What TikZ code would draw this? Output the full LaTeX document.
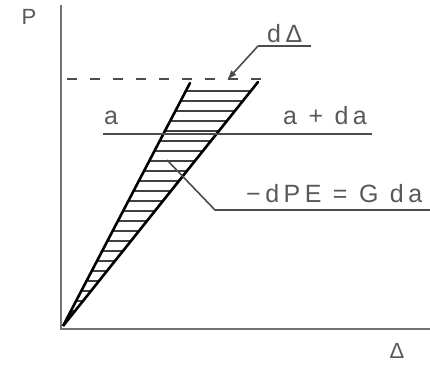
\documentclass[tikz,border=0pt]{standalone}
\usepackage{fontspec}
\setmainfont{Liberation Sans}
\newfontfamily\lblfont[LetterSpace=18]{Liberation Sans}
\usetikzlibrary{calc,arrows.meta}
\begin{document}
\begin{tikzpicture}[x=1pt,y=-1pt,
  axis/.style={draw=black!55,line width=2.6pt},
  edge/.style={draw=black,line width=2.6pt,line cap=round},
  hatch/.style={draw=black!75,line width=1.6pt},
  thin/.style={draw=black!70,line width=1.6pt},
  lbl/.style={font=\lblfont\fontsize{25}{26}\selectfont,text=black!65,inner sep=0pt,anchor=base west},
]
\useasboundingbox (0,0) rectangle (430,365);
% axes
\coordinate (O) at (61,329);
\coordinate (ytop) at (61,5);
\coordinate (xend) at (430,329);
\draw[axis] (ytop) -- (O) -- (xend);
\node[lbl,anchor=center,font=\lblfont\fontsize{22}{23}\selectfont] (P) at (29,17) {P};
\node[lbl,anchor=center,font=\lblfont\fontsize{22}{23}\selectfont] (D) at (397,351) {Δ};
% triangle
\coordinate (A) at (63,326);
\coordinate (L) at (190,83);
\coordinate (R) at (258,82);
\foreach \yy in {91,101,...,321}{
  \draw[hatch] ($(A)!{(326-\yy)/243}!(L)$) -- ($(A)!{(326-\yy)/244}!(R)$);
}
\draw[edge] (L) -- (A) -- (R);
% dashed line
\coordinate (dl) at (67,79);
\coordinate (dr) at (264,79);
\draw[draw=black!70,line width=1.6pt,dash pattern=on 10pt off 13pt] (dl) -- (dr);
% line a
\coordinate (al) at (103,134);
\coordinate (ar) at (372,134);
\draw[thin] (al) -- (ar);
\node[lbl] (a) at (104,124) {a};
\node[lbl] (ada) at (283,124) {a + da};
% dDelta label
\node[lbl] (dD) at (267,42) {dΔ};
\coordinate (u1) at (258,46);
\coordinate (u2) at (311,46);
\coordinate (tip) at (227,80);
\draw[thin] (u2) -- (u1);
\draw[thin,-{Latex[length=10pt,width=7pt]}] (u1) -- (tip);
% -dPE label
\node[lbl] (pe) at (246,202) {−dPE = G da};
\coordinate (s) at (167,160);
\coordinate (k) at (215,210);
\coordinate (e) at (430,210);
\draw[thin] (s) -- (k) -- (e);
\end{tikzpicture}
\end{document}
